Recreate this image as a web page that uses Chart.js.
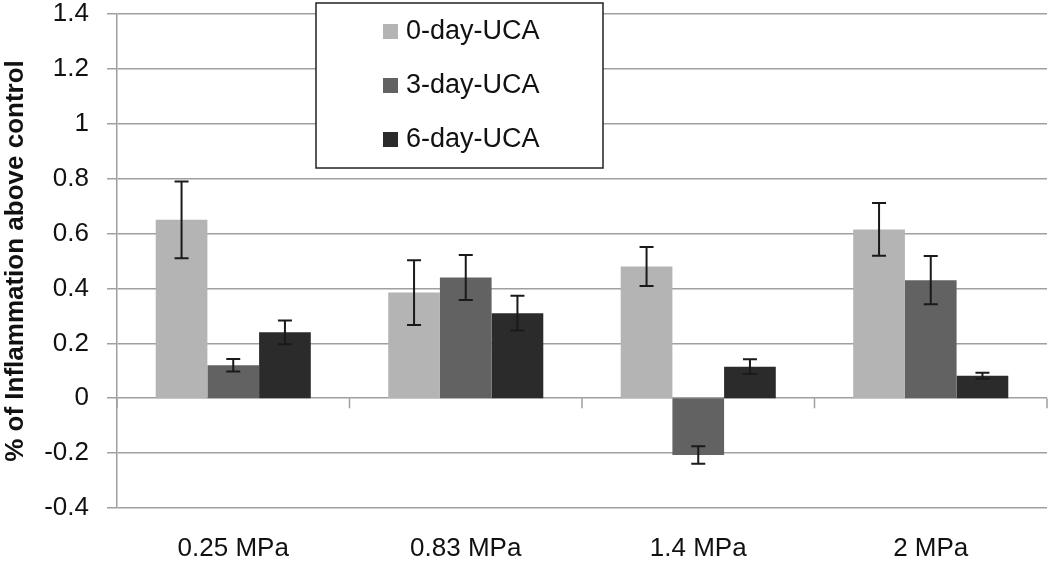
<!DOCTYPE html>
<html>
<head>
<meta charset="utf-8">
<script src="https://cdn.jsdelivr.net/npm/chart.js@4"></script>
<style>
    body { margin: 0; background: #fff; }
    #wrap { width: 1050px; height: 561px; }
</style>
</head>
<body>
<div id="wrap"><canvas id="inflammation-chart" width="1050" height="561"></canvas></div>
<script>
const categories   = ['0.25 MPa', '0.83 MPa', '1.4 MPa', '2 MPa']
const series_names = ['0-day-UCA', '3-day-UCA', '6-day-UCA']
const day0_values  = [0.65, 0.385, 0.48, 0.615]
const day0_errors  = [0.14, 0.118, 0.071, 0.096]
const day3_values  = [0.12, 0.44, -0.207, 0.43]
const day3_errors  = [0.023, 0.082, 0.032, 0.088]
const day6_values  = [0.24, 0.31, 0.115, 0.082]
const day6_errors  = [0.043, 0.063, 0.027, 0.011]
const y_min  = -0.4
const y_max  = 1.4
const y_step = 0.2

const fontFamily = '"Liberation Sans", Arial, sans-serif'
const seriesColors = ['#b4b4b4', '#626262', '#2b2b2b']
const gridColor = '#a0a0a0'

// error whiskers, drawn through the y scale
const errorBars = {
    id: 'errorBars',
    afterDatasetsDraw(chart) {
        const ctx = chart.ctx
        const yScale = chart.scales.y
        ctx.save()
        ctx.strokeStyle = '#1a1a1a'
        ctx.lineWidth = 2
        chart.data.datasets.forEach((ds, i) => {
            const meta = chart.getDatasetMeta(i)
            meta.data.forEach((bar, j) => {
                const v = ds.data[j]
                const e = ds.errors[j]
                const top = yScale.getPixelForValue(v + e)
                const bottom = yScale.getPixelForValue(v - e)
                ctx.beginPath()
                ctx.moveTo(bar.x, top)
                ctx.lineTo(bar.x, bottom)
                ctx.moveTo(bar.x - 7, top)
                ctx.lineTo(bar.x + 7, top)
                ctx.moveTo(bar.x - 7, bottom)
                ctx.lineTo(bar.x + 7, bottom)
                ctx.stroke()
            })
        })
        ctx.restore()
    }
}

// small category ticks hanging below the zero line
const zeroAxisTicks = {
    id: 'zeroAxisTicks',
    afterDatasetsDraw(chart) {
        const ctx = chart.ctx
        const xScale = chart.scales.x
        const y0 = chart.scales.y.getPixelForValue(0)
        ctx.save()
        ctx.strokeStyle = gridColor
        ctx.lineWidth = 1.5
        ctx.beginPath()
        for (let i = 0; i <= categories.length; i++) {
            const x = xScale.getPixelForValue(i - 0.5)
            ctx.moveTo(x, y0)
            ctx.lineTo(x, y0 + 10)
        }
        ctx.stroke()
        ctx.restore()
    }
}

// boxed legend sitting inside the plot, like the original
const boxLegend = {
    id: 'boxLegend',
    afterDraw(chart) {
        const ctx = chart.ctx
        const box = {left: 316, top: 3, width: 287, height: 165}
        ctx.save()
        ctx.fillStyle = '#fff'
        ctx.fillRect(box.left, box.top, box.width, box.height)
        ctx.strokeStyle = '#222'
        ctx.lineWidth = 1.5
        ctx.strokeRect(box.left, box.top, box.width, box.height)
        ctx.font = `27px ${fontFamily}`
        ctx.textBaseline = 'middle'
        chart.data.datasets.forEach((ds, i) => {
            const cy = 32 + i * 54
            ctx.fillStyle = ds.backgroundColor
            ctx.fillRect(383, cy - 8, 15, 15)
            ctx.fillStyle = '#111'
            ctx.fillText(ds.label, 406, cy)
        })
        ctx.restore()
    }
}

const renderChart = () => {
    const canvasEl = document.getElementById('inflammation-chart')
    const values = [day0_values, day3_values, day6_values]
    const errors = [day0_errors, day3_errors, day6_errors]
    new Chart(canvasEl.getContext('2d'), {
        type: 'bar',
        data: {
            labels: categories,
            datasets: series_names.map((name, i) => ({
                label: name,
                data: values[i],
                errors: errors[i],
                backgroundColor: seriesColors[i],
                borderWidth: 0,
                categoryPercentage: 0.667,
                barPercentage: 1
            }))
        },
        options: {
            responsive: false,
            animation: false,
            layout: { padding: { top: 14, right: 3, left: 0, bottom: 0 } },
            plugins: {
                legend: { display: false },
                tooltip: { enabled: false }
            },
            scales: {
                x: {
                    grid: { display: false },
                    border: { display: false },
                    ticks: {
                        color: '#111',
                        font: { family: fontFamily, size: 26 },
                        padding: 17
                    },
                    afterFit: scale => {
                        scale.height = 53
                        scale.paddingLeft = 0
                        scale.paddingRight = 0
                    }
                },
                y: {
                    min: y_min,
                    max: y_max,
                    ticks: {
                        stepSize: y_step,
                        color: '#111',
                        padding: 18,
                        font: { family: fontFamily, size: 26 },
                        callback: v => String(Number(v.toFixed(1)))
                    },
                    grid: { color: gridColor, lineWidth: 1.5, tickLength: 10 },
                    border: { display: true, color: gridColor, width: 1.5 },
                    title: {
                        display: true,
                        text: '% of Inflammation above control',
                        color: '#111',
                        font: { family: fontFamily, size: 26, weight: 'bold' },
                        padding: 0
                    },
                    afterFit: scale => {
                        scale.width = 117
                        scale.paddingTop = 0
                        scale.paddingBottom = 0
                    }
                }
            }
        },
        plugins: [errorBars, zeroAxisTicks, boxLegend]
    })
}

document.addEventListener('DOMContentLoaded', renderChart, false)
</script>
</body>
</html>
